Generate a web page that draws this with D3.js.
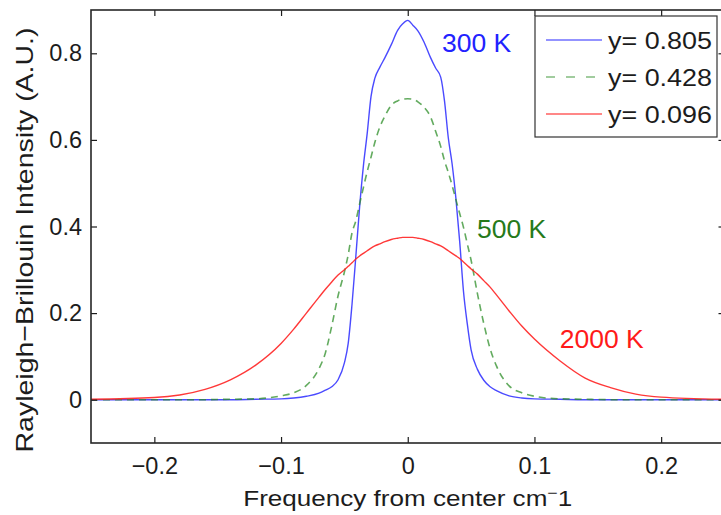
<!DOCTYPE html>
<html>
<head>
<meta charset="utf-8">
<script src="https://cdn.jsdelivr.net/npm/d3@7"></script>
<style>
  body { margin: 0; background: #fff; }
  svg { display: block; font-family: "Liberation Sans", Arial, Helvetica, sans-serif; }
</style>
</head>
<body>
<div id="chart"></div>
<script>
// frequence depuis le centre (cm-1), commune aux trois courbes
const freq = [-0.25, -0.2, -0.18, -0.16, -0.14, -0.12, -0.1, -0.09, -0.08, -0.07, -0.065, -0.06, -0.055,
  -0.05, -0.047, -0.044, -0.041, -0.038, -0.035, -0.032, -0.029, -0.026, -0.022, -0.018, -0.013, -0.008, -0.004,
  0,
  0.004, 0.008, 0.013, 0.018, 0.022, 0.026, 0.029, 0.032, 0.035, 0.038, 0.041, 0.044, 0.047, 0.05,
  0.055, 0.06, 0.065, 0.07, 0.08, 0.09, 0.1, 0.12, 0.14, 0.16, 0.18, 0.2, 0.25];

// intensite Rayleigh-Brillouin
const i300 = [0, 0, 0, 0, 0, 0.001, 0.002, 0.004, 0.008, 0.015, 0.022, 0.03, 0.046,
  0.085, 0.13, 0.22, 0.33, 0.445, 0.54, 0.615, 0.70, 0.742, 0.768, 0.79, 0.82, 0.853, 0.868,
  0.876,
  0.865, 0.852, 0.825, 0.79, 0.766, 0.745, 0.69, 0.605, 0.545, 0.465, 0.365, 0.25, 0.175, 0.115,
  0.07, 0.045, 0.03, 0.021, 0.009, 0.004, 0.002, 0.001, 0, 0, 0, 0, 0];

const i500 = [0, 0, 0, 0, 0.001, 0.002, 0.009, 0.016, 0.033, 0.072, 0.108, 0.17, 0.24,
  0.295, 0.335, 0.385, 0.413, 0.452, 0.49, 0.527, 0.56, 0.594, 0.63, 0.655, 0.68, 0.69, 0.694,
  0.695,
  0.694, 0.688, 0.675, 0.653, 0.62, 0.585, 0.552, 0.525, 0.495, 0.462, 0.43, 0.398, 0.36, 0.322,
  0.245, 0.176, 0.118, 0.078, 0.032, 0.016, 0.008, 0.002, 0.001, 0, 0, 0, 0];

const i2000 = [0.001, 0.005, 0.011, 0.024, 0.046, 0.08, 0.13, 0.163, 0.2, 0.237, 0.255, 0.272, 0.288,
  0.3, 0.308, 0.316, 0.325, 0.332, 0.338, 0.344, 0.35, 0.355, 0.36, 0.365, 0.37, 0.373, 0.375,
  0.375,
  0.375, 0.373, 0.37, 0.365, 0.36, 0.355, 0.35, 0.344, 0.338, 0.332, 0.326, 0.318, 0.31, 0.302,
  0.29, 0.275, 0.26, 0.242, 0.205, 0.17, 0.14, 0.09, 0.05, 0.028, 0.013, 0.006, 0.001];

const seriesNames = ["300 K", "500 K", "2000 K"];
const legendLabels = ["y= 0.805", "y= 0.428", "y= 0.096"];

const xTicks = [-0.2, -0.1, 0, 0.1, 0.2];
const xTickLabels = ["\u22120.2", "\u22120.1", "0", "0.1", "0.2"];
const yTicks = [0, 0.2, 0.4, 0.6, 0.8];
const yTickLabels = ["0", "0.2", "0.4", "0.6", "0.8"];

const width = 721;
const height = 515;
const box = { left: 91, right: 724.5, top: 10, bottom: 443 };
const ink = "#1c1c1c";

const svg = d3.select("#chart")
  .append("svg")
  .attr("width", width)
  .attr("height", height);

const x = d3.scaleLinear().domain([-0.25, 0.25]).range([box.left, box.right]);
const y = d3.scaleLinear().domain([-0.1, 0.9]).range([box.bottom, box.top]);

// zone de trace
svg.append("clipPath")
  .attr("id", "zone")
  .append("rect")
  .attr("x", box.left).attr("y", box.top)
  .attr("width", box.right - box.left).attr("height", box.bottom - box.top);

const styles = [
  { color: "#2a2aff", width: 1.4, dash: null, opacity: 0.85, text: "#2222ff" },
  { color: "#2f8f2a", width: 1.6, dash: "7,5", opacity: 0.75, text: "#267a1a" },
  { color: "#ff2222", width: 1.4, dash: null, opacity: 0.9, text: "#ff1a1a" }
];

const series = [i300, i500, i2000].map(v => d3.zip(freq, v));

const line = d3.line()
  .x(d => x(d[0]))
  .y(d => y(d[1]))
  .curve(d3.curveMonotoneX);

const plot = svg.append("g").attr("clip-path", "url(#zone)");

series.forEach((s, i) => {
  plot.append("path")
    .datum(s)
    .attr("fill", "none")
    .attr("stroke", styles[i].color)
    .attr("stroke-width", styles[i].width)
    .attr("stroke-opacity", styles[i].opacity)
    .attr("stroke-dasharray", styles[i].dash)
    .attr("d", line);
});

// axes, graduations vers l'interieur
function styleAxis(g) {
  g.select(".domain").remove();
  g.selectAll(".tick line").attr("stroke", ink).attr("stroke-width", 1.2);
  g.selectAll(".tick text")
    .attr("fill", ink)
    .attr("font-size", 23.5)
    .attr("font-family", "Liberation Sans, Arial, sans-serif");
}

svg.append("g")
  .attr("transform", `translate(0, ${box.bottom})`)
  .call(d3.axisBottom(x).tickValues(xTicks).tickFormat((d, i) => xTickLabels[i])
    .tickSizeInner(-6).tickSizeOuter(0).tickPadding(14))
  .call(styleAxis);

svg.append("g")
  .attr("transform", `translate(0, ${box.top})`)
  .call(d3.axisTop(x).tickValues(xTicks).tickFormat(() => "")
    .tickSizeInner(-6).tickSizeOuter(0))
  .call(styleAxis);

svg.append("g")
  .attr("transform", `translate(${box.left}, 0)`)
  .call(d3.axisLeft(y).tickValues(yTicks).tickFormat((d, i) => yTickLabels[i])
    .tickSizeInner(-6).tickSizeOuter(0).tickPadding(9))
  .call(styleAxis);

svg.append("g")
  .attr("transform", `translate(${box.right}, 0)`)
  .call(d3.axisRight(y).tickValues(yTicks).tickFormat(() => "")
    .tickSizeInner(-6).tickSizeOuter(0))
  .call(styleAxis);

svg.append("rect")
  .attr("x", box.left).attr("y", box.top)
  .attr("width", box.right - box.left).attr("height", box.bottom - box.top)
  .attr("fill", "none")
  .attr("stroke", "#262626")
  .attr("stroke-width", 1.6);

// titres des axes
const xLabel = svg.append("text")
  .attr("x", x(0))
  .attr("y", 506)
  .attr("text-anchor", "middle")
  .attr("font-size", 22)
  .attr("fill", ink)
  .attr("textLength", 329)
  .attr("lengthAdjust", "spacingAndGlyphs");
xLabel.append("tspan").text("Frequency from center cm");
xLabel.append("tspan").attr("baseline-shift", "super").attr("font-size", 15).text("\u2212");
xLabel.append("tspan").text("1");

svg.append("text")
  .attr("transform", `translate(33, 240) rotate(-90)`)
  .attr("text-anchor", "middle")
  .attr("font-size", 24.5)
  .attr("fill", ink)
  .attr("textLength", 425)
  .attr("lengthAdjust", "spacingAndGlyphs")
  .text("Rayleigh\u2212Brillouin Intensity (A.U.)");

// etiquettes des courbes
const annot = [[0.027, 0.803], [0.0547, 0.373], [0.120, 0.119]];
seriesNames.forEach((name, i) => {
  svg.append("text")
    .attr("x", x(annot[i][0]))
    .attr("y", y(annot[i][1]))
    .attr("font-size", 26.5)
    .attr("fill", styles[i].text)
    .text(name);
});

// legende
const legend = svg.append("g");
legend.append("rect")
  .attr("x", 535).attr("y", 16)
  .attr("width", 182).attr("height", 121)
  .attr("fill", "#fff")
  .attr("stroke", "#333")
  .attr("stroke-width", 1.2);

legendLabels.forEach((lab, i) => {
  const ly = 40 + i * 37;
  legend.append("line")
    .attr("x1", 546).attr("x2", 602)
    .attr("y1", ly).attr("y2", ly)
    .attr("stroke", styles[i].color)
    .attr("stroke-width", styles[i].width)
    .attr("stroke-opacity", styles[i].opacity * 0.8)
    .attr("stroke-dasharray", styles[i].dash ? "9,11" : null);
  legend.append("text")
    .attr("x", 608)
    .attr("y", ly + 9)
    .attr("font-size", 23)
    .attr("fill", ink)
    .attr("textLength", 104)
    .attr("lengthAdjust", "spacingAndGlyphs")
    .text(lab);
});
</script>
</body>
</html>
